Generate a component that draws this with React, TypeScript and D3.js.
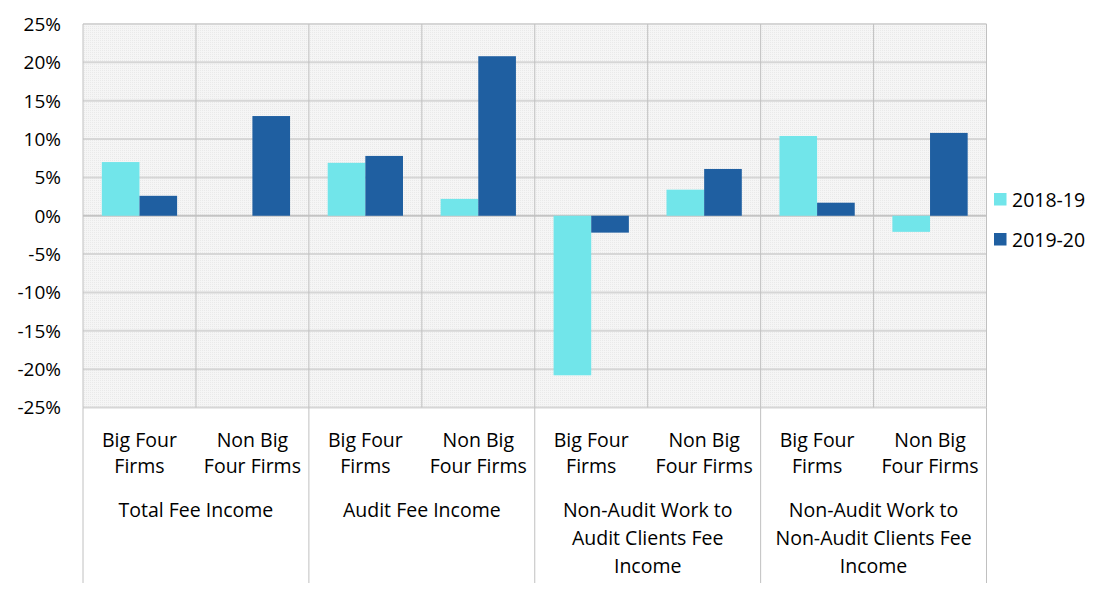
import React from 'react';
import * as d3 from 'd3';

// Series values (percent change), one per firm-type column, left to right.
const SERIES = ['2018-19', '2019-20'];
const SERIES_COLORS = ['#71E5EA', '#1F5FA1'];
const values1819 = [7.0, 0, 6.9, 2.2, -20.8, 3.4, 10.4, -2.1];
const values1920 = [2.6, 13.0, 7.8, 20.8, -2.2, 6.1, 1.7, 10.8];

// Two-level category axis: firm type inside each fee group.
const firmLabels = [['Big Four', 'Firms'], ['Non Big', 'Four Firms']];
const groupLabels = [
  ['Total Fee Income'],
  ['Audit Fee Income'],
  ['Non-Audit Work to', 'Audit Clients Fee', 'Income'],
  ['Non-Audit Work to', 'Non-Audit Clients Fee', 'Income'],
];
const yTicks = [25, 20, 15, 10, 5, 0, -5, -10, -15, -20, -25];

const W = 1099;
const H = 591;
const plot = { left: 83, right: 986.5, top: 24, bottom: 407.5 };
const FONT = '"Open Sans", "Noto Sans", sans-serif';

export default function App() {
  const nCols = groupLabels.length * firmLabels.length;
  const cols = d3.range(nCols);
  const x = d3.scaleBand<number>().domain(cols).range([plot.left, plot.right]);
  const xInner = d3.scaleBand<string>().domain(SERIES).range([0, x.bandwidth()]).paddingOuter(0.5);
  const y = d3.scaleLinear().domain([-25, 25]).range([plot.bottom, plot.top]);
  const groupW = x.bandwidth() * firmLabels.length;
  const series = [values1819, values1920];

  return (
    <svg width={W} height={H} style={{ position: 'absolute', left: 0, top: 0, background: '#fff' }} fontFamily={FONT}>
      <defs>
        {/* fine dotted fill like the original plot area */}
        <pattern id="dots" width="2" height="2" patternUnits="userSpaceOnUse">
          <rect width="2" height="2" fill="#f5f5f5" />
          <rect width="1" height="1" fill="#e9e9e9" />
        </pattern>
      </defs>

      <rect x={plot.left} y={plot.top} width={plot.right - plot.left} height={plot.bottom - plot.top} fill="url(#dots)" />

      {/* horizontal gridlines */}
      {yTicks.map((t) => (
        <line key={t} x1={plot.left} x2={plot.right} y1={y(t)} y2={y(t)} stroke={t === 0 ? '#c4c4c4' : '#d6d6d6'} strokeWidth={2} />
      ))}

      {/* vertical gridlines at column boundaries */}
      {d3.range(nCols + 1).map((i) => {
        const xx = plot.left + i * x.step();
        return <line key={i} x1={xx} x2={xx} y1={plot.top} y2={plot.bottom} stroke="#c0c0c0" strokeWidth={1} />;
      })}

      {/* bars */}
      {series.map((vals, si) =>
        vals.map((v, ci) => {
          const x0 = (x(ci) ?? 0) + (xInner(SERIES[si]) ?? 0);
          const y0 = y(Math.max(0, v));
          const h = Math.abs(y(v) - y(0));
          return <rect key={`${si}-${ci}`} x={x0} y={y0} width={xInner.bandwidth()} height={h} fill={SERIES_COLORS[si]} />;
        })
      )}

      {/* y tick labels */}
      {yTicks.map((t) => (
        <text key={t} x={61} y={y(t)} dy="0.36em" textAnchor="end" fontSize={19} fill="#000">
          {`${t}%`}
        </text>
      ))}

      {/* group separators below the plot */}
      {d3.range(groupLabels.length + 1).map((g) => {
        const xx = plot.left + g * groupW;
        return <line key={g} x1={xx} x2={xx} y1={plot.bottom} y2={583} stroke="#c0c0c0" strokeWidth={1} />;
      })}

      {/* firm labels */}
      {cols.map((ci) => {
        const cx = (x(ci) ?? 0) + x.bandwidth() / 2;
        const lines = firmLabels[ci % firmLabels.length];
        return (
          <text key={ci} textAnchor="middle" fontSize={19.5} fill="#000">
            {lines.map((l, li) => (
              <tspan key={li} x={cx} y={446.5 + li * 26.5}>{l}</tspan>
            ))}
          </text>
        );
      })}

      {/* group labels */}
      {groupLabels.map((lines, gi) => {
        const cx = plot.left + gi * groupW + groupW / 2;
        return (
          <text key={gi} textAnchor="middle" fontSize={19.5} fill="#000">
            {lines.map((l, li) => (
              <tspan key={li} x={cx} y={516.5 + li * 28}>{l}</tspan>
            ))}
          </text>
        );
      })}

      {/* legend */}
      {SERIES.map((s, si) => (
        <g key={s} transform={`translate(994, ${193 + si * 40})`}>
          <rect width={12.5} height={12.5} fill={SERIES_COLORS[si]} />
          <text x={18} y={6.5} dy="0.36em" fontSize={19.5} fill="#000">{s}</text>
        </g>
      ))}
    </svg>
  );
}
